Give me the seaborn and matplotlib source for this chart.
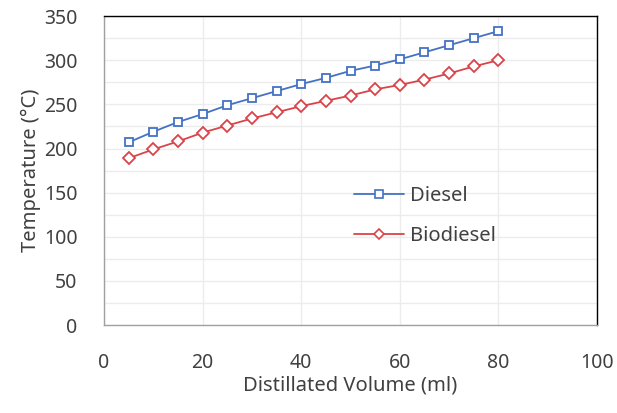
import pandas as pd
import numpy as np
import matplotlib.pyplot as plt
import seaborn as sns
from matplotlib.ticker import MultipleLocator
from matplotlib.lines import Line2D

sns.set_style("white")
plt.rcParams['font.family'] = ['Noto Sans', 'DejaVu Sans']

# data
volume = [5, 10, 15, 20, 25, 30, 35, 40, 45, 50, 55, 60, 65, 70, 75, 80]
diesel = [207, 219, 230, 239, 249, 257, 265, 273, 280, 288, 294, 301, 309, 317, 325, 333]
biodiesel = [189, 199, 208, 218, 226, 234, 241, 248, 254, 260, 267, 272, 278, 285, 293, 300]

df = pd.DataFrame({'Volume': volume * 2,
                   'Temp': diesel + biodiesel,
                   'Fuel': ['Diesel'] * len(volume) + ['Biodiesel'] * len(volume)})

colors = {'Diesel': '#4472C4', 'Biodiesel': '#D9444A'}
marks = {'Diesel': 's', 'Biodiesel': 'D'}

fig = plt.figure(figsize=(6.17, 4.13), dpi=100)
ax = fig.add_axes([0.1686, 0.213, 0.799, 0.748])

sns.lineplot(data=df, x='Volume', y='Temp', hue='Fuel', style='Fuel',
             palette=colors, markers=marks, dashes=False,
             markersize=6.2, markerfacecolor='white', markeredgewidth=1.3,
             linewidth=1.3, ax=ax, legend=False)
for line, c in zip(ax.lines, colors.values()):
    line.set_markeredgecolor(c)

ax.set_xlim(0, 100)
ax.set_ylim(0, 350)
ax.xaxis.set_major_locator(MultipleLocator(20))
ax.yaxis.set_major_locator(MultipleLocator(50))
ax.yaxis.set_minor_locator(MultipleLocator(25))
ax.grid(True, which='both', axis='y', color='#ECECEC', linewidth=1)
ax.grid(True, which='major', axis='x', color='#ECECEC', linewidth=1)
ax.set_axisbelow(True)

for s in ['top', 'right']:
    ax.spines[s].set_color('black')
    ax.spines[s].set_linewidth(1)
for s in ['left', 'bottom']:
    ax.spines[s].set_color('#A0A0A0')
    ax.spines[s].set_linewidth(1)

ax.tick_params(axis='both', which='major', direction='out', length=4, width=1,
               color='#A0A0A0', labelsize=14, labelcolor='#404040')
ax.tick_params(axis='y', which='major', pad=15)
ax.tick_params(axis='x', which='major', pad=16)
ax.tick_params(axis='y', which='minor', length=0)

ax.set_xlabel('Distillated Volume (ml)', fontsize=14.5, color='#404040', labelpad=2)
ax.set_ylabel('Temperature (°C)', fontsize=14.5, color='#404040', labelpad=2)

handles = [Line2D([], [], color=colors[k], marker=marks[k], markersize=5.5,
                  markerfacecolor='white', markeredgecolor=colors[k],
                  markeredgewidth=1.2, linewidth=1.3) for k in colors]
leg = ax.legend(handles, list(colors), frameon=False, fontsize=14.5,
                loc='center left', bbox_to_anchor=(0.47, 0.354),
                handlelength=2.5, labelspacing=1.0, handletextpad=0.3)
for t in leg.get_texts():
    t.set_color('#404040')

fig.savefig('out.png', dpi=100)
